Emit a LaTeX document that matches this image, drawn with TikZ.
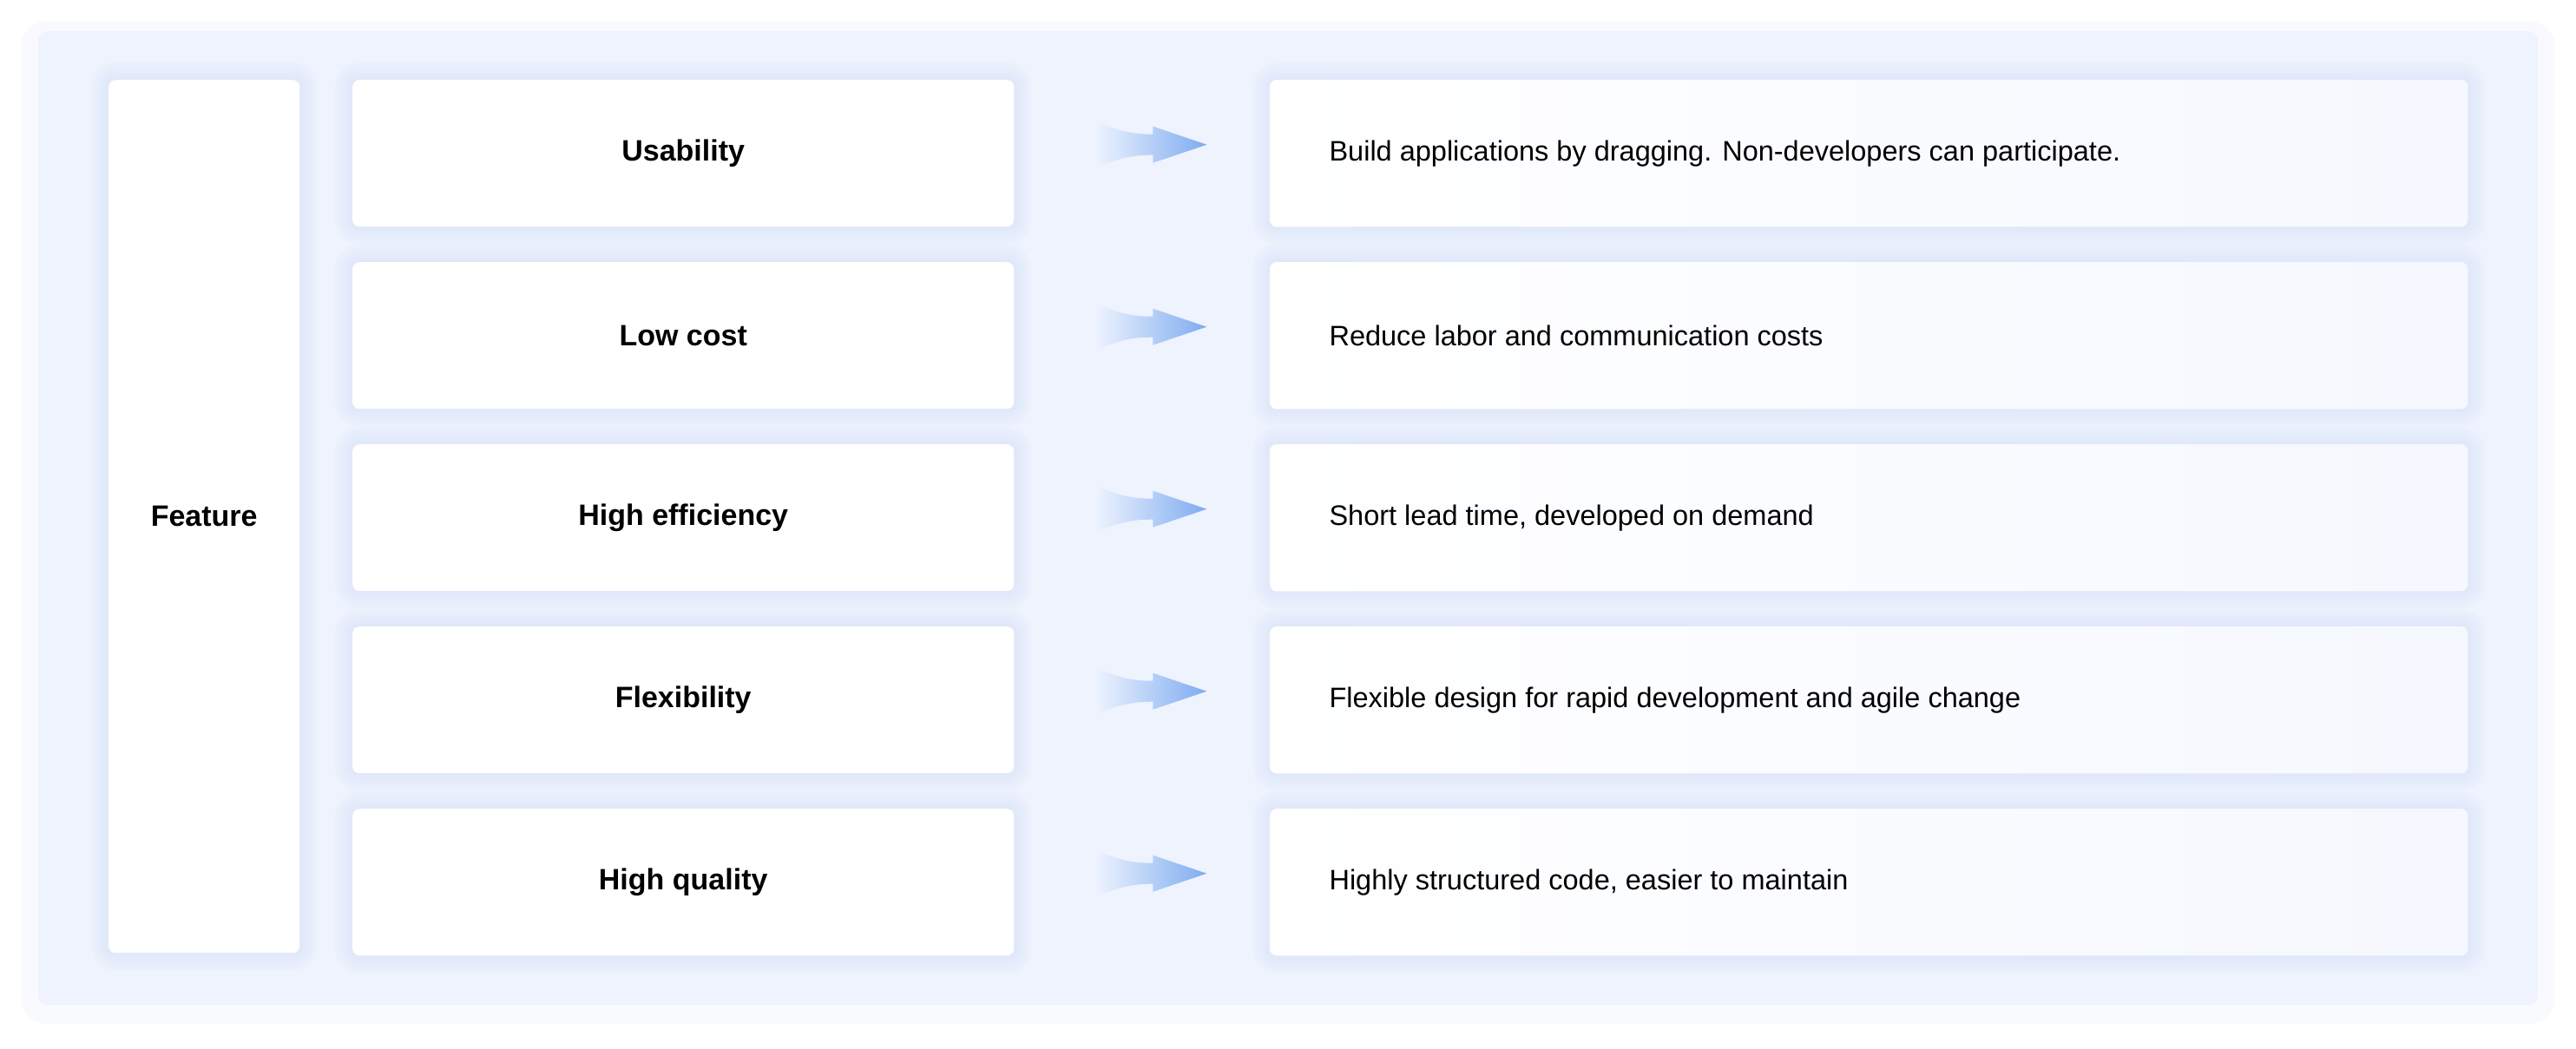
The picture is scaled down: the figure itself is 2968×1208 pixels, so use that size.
\documentclass[tikz,border=0pt]{standalone}
\usepackage{fontspec}
\setmainfont{Liberation Sans}
\definecolor{panel}{HTML}{EEF3FE}
\definecolor{shad}{HTML}{C9D6F2}
\definecolor{arrowblue}{HTML}{7EACF0}
\tikzset{
  card/.style={fill=white,rounded corners=8pt},
  lbl/.style={font=\fontsize{34}{40}\selectfont\bfseries},
  desc/.style={font=\fontsize{32.5}{38}\selectfont},
}
\newcommand{\softshadow}[1]{%
  \foreach \s in {20,16,12,8,4}{
    \fill[shad,opacity=0.07,rounded corners=8pt+\s pt] ([xshift=-\s pt,yshift=\s pt]#1.north west) rectangle ([xshift=\s pt,yshift=-\s pt]#1.south east);
  }}
\begin{document}
\begin{tikzpicture}[x=1pt,y=-1pt]
\useasboundingbox (0,0) rectangle (2968,1208);
\fill[white] (0,0) rectangle (2968,1208);
\fill[panel!40,rounded corners=30pt] (24,24) rectangle (2944,1180);
\fill[panel,rounded corners=10pt] (44,36) rectangle (2924,1158);
\path node[minimum width=220pt,minimum height=1006pt,anchor=north west] (fb) at (125,92) {};
\softshadow{fb}
\node[card,minimum width=220pt,minimum height=1006pt,anchor=north west,lbl] (feat) at (125,92) {Feature};
\foreach \i/\l/\d in {0/Usability/{Build applications by dragging. Non-developers can participate.},
  1/Low cost/{Reduce labor and communication costs},
  2/High efficiency/{Short lead time, developed on demand},
  3/Flexibility/{Flexible design for rapid development and agile change},
  4/High quality/{Highly structured code, easier to maintain}}{
  \pgfmathsetmacro\yy{92+210*\i}
  \path node[minimum width=762pt,minimum height=169pt,anchor=north west] (lb\i) at (406,\yy) {};
  \path node[minimum width=1380pt,minimum height=169pt,anchor=north west] (rb\i) at (1463,\yy) {};
  \softshadow{lb\i}
  \softshadow{rb\i}
  \node[card,minimum width=762pt,minimum height=169pt,anchor=north west,lbl] (l\i) at (406,\yy) {\l};
  \shade[left color=white,right color=panel!60,rounded corners=8pt] (rb\i.north west) rectangle (rb\i.south east);
  \node[desc,anchor=west] (t\i) at ([xshift=65pt]rb\i.west) {\d};
  \coordinate (a\i) at ([xshift=94pt,yshift=10pt]l\i.east);
  \shade[left color=panel,right color=arrowblue]
    ([yshift=-27pt]a\i) .. controls ([xshift=30pt,yshift=-14pt]a\i) and ([xshift=45pt,yshift=-12pt]a\i) .. ([xshift=66pt,yshift=-12pt]a\i)
    -- ([xshift=66pt,yshift=-21pt]a\i) -- ([xshift=128pt]a\i) -- ([xshift=66pt,yshift=21pt]a\i)
    -- ([xshift=66pt,yshift=12pt]a\i) .. controls ([xshift=45pt,yshift=12pt]a\i) and ([xshift=30pt,yshift=14pt]a\i) .. ([yshift=27pt]a\i) -- cycle;
}
\end{tikzpicture}
\end{document}
